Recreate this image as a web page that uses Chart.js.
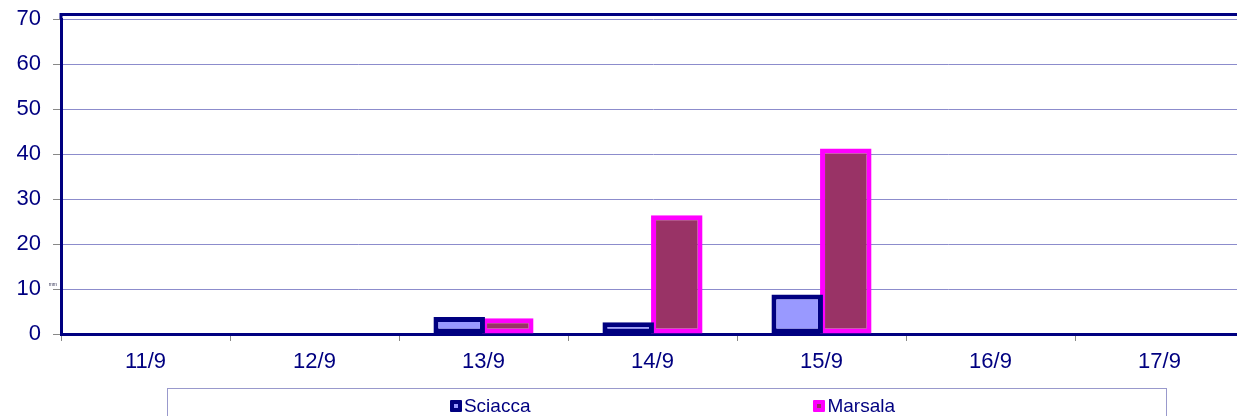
<!DOCTYPE html>
<html>
<head>
<meta charset="utf-8">
<script src="https://cdn.jsdelivr.net/npm/chart.js@4.4.1/dist/chart.umd.min.js"></script>
<style>
  html, body { margin: 0; padding: 0; background: #fff; overflow: hidden; }
  #wrap { position: relative; width: 1237px; height: 416px; overflow: hidden; }
  #chart { position: absolute; left: 0; top: 0; }
  #legend {
    position: absolute; left: 167px; top: 388px; width: 1000px; height: 40px;
    border: 1px solid #9999cc; box-sizing: border-box;
    display: flex; justify-content: center; align-items: flex-start; gap: 283px;
    padding-top: 7px; padding-left: 11px;
    font: 19px "Liberation Sans", Arial, sans-serif; color: #000080;
  }
  .item { display: flex; align-items: center; line-height: 20px; }
  .mark { width: 12px; height: 12px; box-sizing: border-box; border: 4px solid; border-radius: 1px; margin-right: 2px; }
</style>
</head>
<body>
<div id="wrap">
  <canvas id="chart" width="1250" height="416"></canvas>
  <div id="legend"></div>
</div>
<script>
// Rainfall (mm) per day
const days = ['11/9', '12/9', '13/9', '14/9', '15/9', '16/9', '17/9'];
const sciacca = [0, 0, 3.8, 2.6, 8.8, 0, 0];
const marsala = [0, 0, 3.5, 26.4, 41.2, 0, 0];
const yTicks = [0, 10, 20, 30, 40, 50, 60, 70];

const NAVY = '#000080';
const FONT = '"Liberation Sans", Arial, sans-serif';

const series = [
  { label: 'Sciacca', data: sciacca, backgroundColor: '#9999ff', borderColor: NAVY },
  { label: 'Marsala', data: marsala, backgroundColor: '#993366', borderColor: '#ff00ff' }
];

// plot frame top edge + tiny "mm" unit label
const framePlugin = {
  id: 'frame',
  afterDraw(chart) {
    const { ctx, chartArea: a, scales } = chart;
    ctx.save();
    ctx.strokeStyle = NAVY;
    ctx.lineWidth = 3;
    ctx.beginPath();
    ctx.moveTo(a.left, a.top);
    ctx.lineTo(a.left, a.top - 4.5);
    ctx.lineTo(a.right + 10, a.top - 4.5);
    ctx.stroke();
    ctx.fillStyle = '#335';
    ctx.font = '5px ' + FONT;
    ctx.textAlign = 'right';
    ctx.textBaseline = 'middle';
    ctx.fillText('mm', a.left - 4, scales.y.getPixelForValue(10) - 4);
    ctx.restore();
  }
};

new Chart(document.getElementById('chart'), {
  type: 'bar',
  data: {
    labels: days,
    datasets: series.map(s => ({
      ...s,
      borderWidth: 5,
      borderSkipped: false,
      categoryPercentage: 0.575,
      barPercentage: 1.06
    }))
  },
  options: {
    responsive: false,
    animation: false,
    layout: { padding: { top: 19, right: 6, bottom: 42, left: 0 } },
    plugins: { legend: { display: false }, tooltip: { enabled: false } },
    scales: {
      x: {
        grid: { offset: true, drawOnChartArea: false, tickLength: 7, tickColor: '#888' },
        border: { color: NAVY, width: 3 },
        ticks: { color: NAVY, font: { family: FONT, size: 22 }, padding: 8, maxRotation: 0 },
        afterFit: s => { s.height = 40; s.paddingLeft = 0; s.paddingRight = 0; }
      },
      y: {
        min: 0,
        max: 70,
        afterBuildTicks: s => { s.ticks = yTicks.map(v => ({ value: v })); },
        grid: { color: '#8c8ccc', lineWidth: 1, tickLength: 8, tickColor: '#888' },
        border: { color: NAVY, width: 3 },
        ticks: { color: NAVY, font: { family: FONT, size: 22 }, padding: 12 },
        afterFit: s => { s.width = 61; s.paddingTop = 0; s.paddingBottom = 0; }
      }
    }
  },
  plugins: [framePlugin]
});

// legend built from the same series
const legend = document.getElementById('legend');
series.forEach(s => {
  const item = document.createElement('div');
  item.className = 'item';
  const mark = document.createElement('span');
  mark.className = 'mark';
  mark.style.borderColor = s.borderColor;
  mark.style.background = s.backgroundColor;
  item.appendChild(mark);
  item.appendChild(document.createTextNode(s.label));
  legend.appendChild(item);
});
</script>
</body>
</html>
